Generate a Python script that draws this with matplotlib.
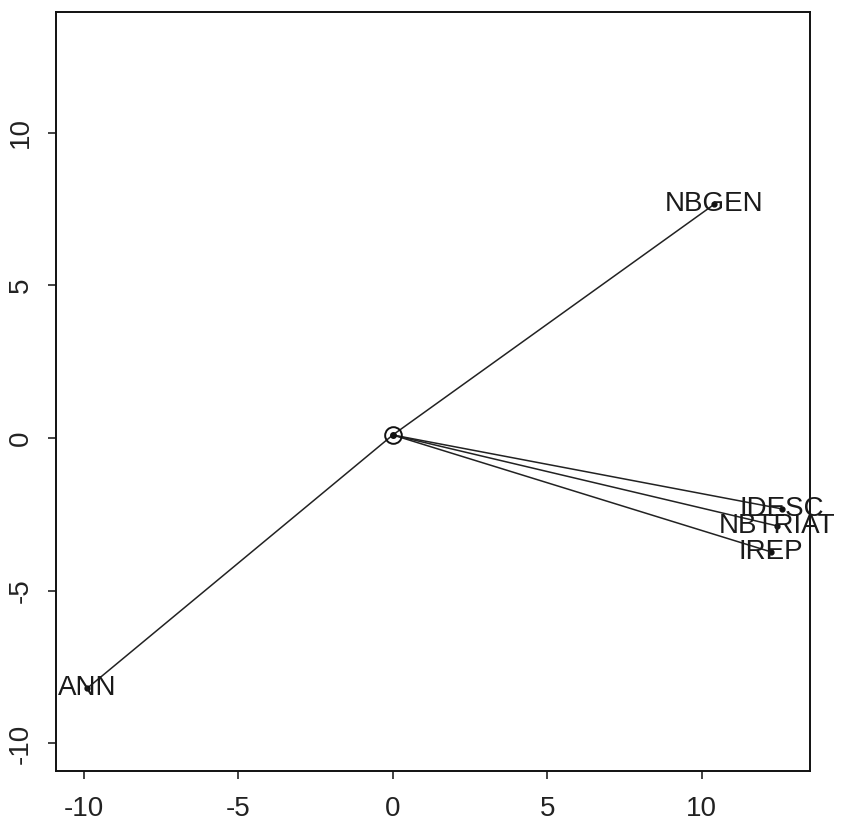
import matplotlib
matplotlib.use("Agg")
import matplotlib.pyplot as plt

plt.rcParams["font.family"] = ["Liberation Sans", "DejaVu Sans"]

# variable coordinates (arrow tips) and origin of the arrows
labels = ["NBGEN", "IDESC", "NBTRIAT", "IREP", "ANN"]
xs = [10.4, 12.6, 12.45, 12.25, -9.9]
ys = [7.65, -2.32, -2.88, -3.73, -8.2]
origin_x, origin_y = 0.0, 0.1

xticks = [-10, -5, 0, 5, 10]
yticks = [-10, -5, 0, 5, 10]

fig = plt.figure(figsize=(8.41, 8.25), dpi=100)
ax = fig.add_axes([0.0666, 0.0655, 0.8964, 0.92])

for x, y, lab in zip(xs, ys, labels):
    ax.plot([origin_x, x], [origin_y, y], color="#222222", lw=1.1)
    ax.plot(x, y, "o", color="#111111", ms=3.5)
    ax.text(x, y, lab, ha="center", va="center", fontsize=20,
            color="#1a1a1a", clip_on=False)

ax.plot(origin_x, origin_y, "o", mfc="none", mec="#111111", ms=12, mew=1.4)
ax.plot(origin_x, origin_y, "o", color="#111111", ms=4)

ax.set_xlim(-10.9, 13.5)
ax.set_ylim(-10.9, 13.95)
ax.set_xticks(xticks)
ax.set_yticks(yticks)
ax.set_xticklabels([str(t) for t in xticks], fontsize=20)
ax.set_yticklabels([str(t) for t in yticks], fontsize=20, rotation=90, va="center")
ax.tick_params(axis="both", direction="out", length=6, width=1.2, colors="#222222")
ax.tick_params(axis="x", pad=12)
ax.tick_params(axis="y", pad=10)
for s in ax.spines.values():
    s.set_linewidth(1.4)
    s.set_color("#111111")

fig.savefig("out.png", dpi=100)
